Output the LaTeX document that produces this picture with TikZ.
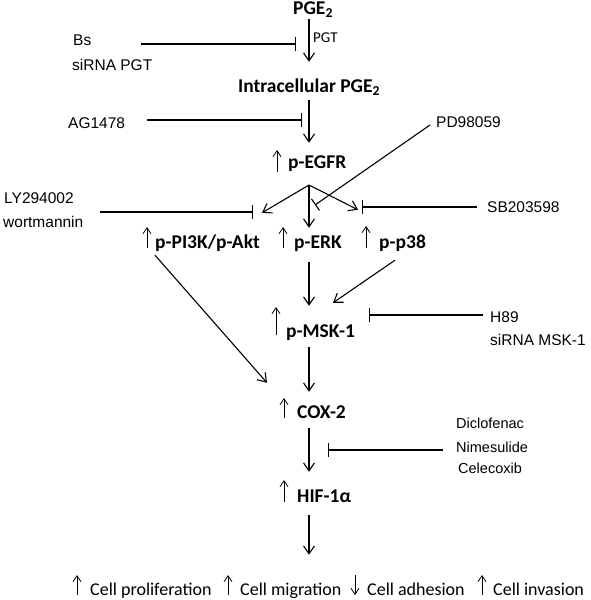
\documentclass[tikz,border=0pt]{standalone}
\usepackage{fontspec}
\setmainfont{Carlito}
\newfontfamily\arialfont{Liberation Sans}
\usetikzlibrary{arrows.meta}

\begin{document}
\begin{tikzpicture}[x=1pt, y=-1pt,
  mol/.style={anchor=base west, inner sep=0pt, text height=12pt, text depth=4pt,
    font=\fontsize{19.5}{21}\selectfont\bfseries},
  effect/.style={anchor=base west, inner sep=0pt, text height=12pt, text depth=4pt,
    font=\fontsize{18}{20}\selectfont},
  drug/.style={anchor=base west, inner sep=0pt, font=\arialfont\fontsize{15.5}{18}\selectfont},
  arr/.style={line width=1.1pt, -{Straight Barb[length=8pt,width=11pt]}},
  inh/.style={line width=1.1pt, -{Bar[width=14pt]}},
  up/.style={line width=0.8pt, -{Straight Barb[length=6pt,width=8pt]}}]
\useasboundingbox[fill=white] (0,0) rectangle (591,600);

% Main column of the pathway
\coordinate (axis) at (309,0);
\node[mol] (pge) at (293,14) {PGE\textsubscript{2}};
\node[mol] (ipge) at (238,92) {Intracellular PGE\textsubscript{2}};
\node[mol] (egfr) at (288,168) {p-EGFR};
\node[mol] (akt) at (155,248) {p-PI3K/p-Akt};
\node[mol] (erk) at (294,248) {p-ERK};
\node[mol] (p38) at (379,248) {p-p38};
\node[mol] (msk) at (286,337) {p-MSK-1};
\node[mol] (cox) at (297,418) {COX-2};
\node[mol] (hif) at (297,502) {HIF-1α};
\node[anchor=base west, inner sep=0pt, font=\fontsize{15}{17}\selectfont] (pgt) at (313,42) {PGT};

% Effects on the cells
\node[effect] (prolif) at (90,595) {Cell proliferation};
\node[effect] (migr) at (240,595) {Cell migration};
\node[effect] (adh) at (367,595) {Cell adhesion};
\node[effect] (inv) at (493,595) {Cell invasion};

% Inhibitors
\node[drug] (bs) at (73,45) {Bs};
\node[drug] (sipgt) at (72,70) {siRNA PGT};
\node[drug] (ag) at (68,128) {AG1478};
\node[drug] (pd) at (436,127) {PD98059};
\node[drug] (ly) at (4,203) {LY294002};
\node[drug] (wort) at (3,227) {wortmannin};
\node[drug] (sb) at (487,212) {SB203598};
\node[drug] (h89) at (490,322) {H89};
\node[drug] (simsk) at (490,345) {siRNA MSK-1};
\node[drug, font=\arialfont\fontsize{14.5}{17}\selectfont] (dic) at (456,428) {Diclofenac};
\node[drug, font=\arialfont\fontsize{14.5}{17}\selectfont] (nim) at (456,452) {Nimesulide};
\node[drug, font=\arialfont\fontsize{14.5}{17}\selectfont] (cel) at (458,473) {Celecoxib};

% Up and down marks
\draw[up] ([shift={(-11,4)}]egfr.base west) -- ++(0,-22);
\draw[up] ([shift={(-8,0)}]akt.base west) -- ++(0,-21);
\draw[up] ([shift={(-11,0)}]erk.base west) -- ++(0,-21);
\draw[up] ([shift={(-13,0)}]p38.base west) -- ++(0,-22);
\draw[up] ([shift={(-10,-2)}]msk.base west) -- ++(0,-28);
\draw[up] ([shift={(-13,0)}]cox.base west) -- ++(0,-20);
\draw[up] ([shift={(-13,0)}]hif.base west) -- ++(0,-22);
\draw[up] ([shift={(-13,0)}]prolif.base west) -- ++(0,-20);
\draw[up] ([shift={(-12,0)}]migr.base west) -- ++(0,-20);
\draw[up] ([shift={(-12,-20)}]adh.base west) -- ++(0,20);
\draw[up] ([shift={(-11,0)}]inv.base west) -- ++(0,-20);

% Activation arrows
\draw[arr, shorten <=1pt, shorten >=18pt] (pge.south -| axis) -- (ipge.north -| axis);
\draw[arr, shorten <=4pt, shorten >=13pt] (ipge.south -| axis) -- (egfr.north -| axis);
\coordinate (br) at (309,185);
\draw[arr] (br) -- ([shift={(107,-23)}]akt.north west);
\draw[arr, shorten >=8pt] (br) -- (erk.north -| br);
\draw[arr] (br) -- ([shift={(-21,-26)}]p38.north west);
\draw[arr, shorten <=10pt, shorten >=19pt] (erk.south -| axis) -- (msk.north -| axis);
\draw[arr] ([shift={(16,8)}]p38.south west) -- ([shift={(47,-22)}]msk.north west);
\draw[arr] ([shift={(0,3)}]akt.south west) -- ([shift={(-30,-23)}]cox.north west);
\draw[arr, shorten <=6pt, shorten >=14pt] (msk.south -| axis) -- (cox.north -| axis);
\draw[arr, shorten <=6pt, shorten >=18pt] (cox.south -| axis) -- (hif.north -| axis);
\draw[arr, shorten <=9pt, shorten >=28pt] (hif.south -| axis) -- (migr.north -| axis);

% Inhibition lines
\draw[inh] ([shift={(68,-1)}]bs.base west) -- ++(155,0);
\draw[inh] ([shift={(79,-8)}]ag.base west) -- ++(155,0);
\draw[inh] ([shift={(-6,-2)}]pd.base west) -- ++(-115,80);
\draw[inh] ([shift={(96,9)}]ly.base west) -- ++(153,0);
\draw[inh] ([shift={(-10,-5)}]sb.base west) -- ++(-115,0);
\draw[inh] ([shift={(-7,-7)}]h89.base west) -- ++(-114,0);
\draw[inh] ([shift={(-13,-2)}]nim.base west) -- ++(-115,0);
\end{tikzpicture}
\end{document}
